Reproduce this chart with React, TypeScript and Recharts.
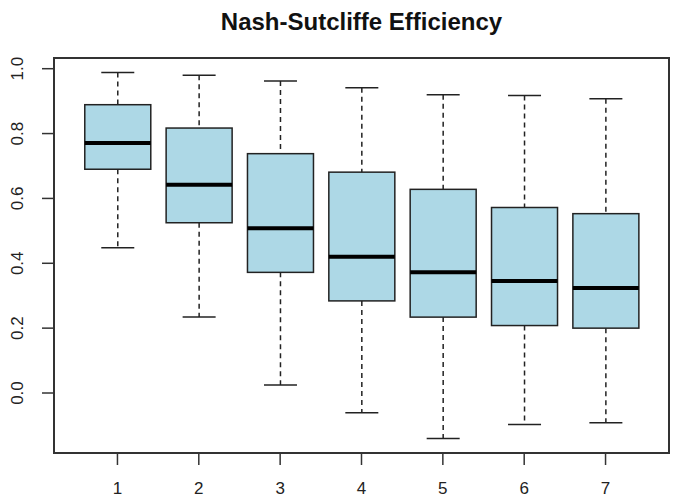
import { ComposedChart, Bar, XAxis, YAxis, ReferenceArea } from "recharts";

// five-number summaries per lead time
const categories = [1, 2, 3, 4, 5, 6, 7];
const lows = [0.448, 0.234, 0.025, -0.061, -0.14, -0.097, -0.092];
const q1s = [0.69, 0.525, 0.372, 0.284, 0.234, 0.208, 0.2];
const medians = [0.771, 0.642, 0.508, 0.42, 0.372, 0.345, 0.324];
const q3s = [0.889, 0.817, 0.738, 0.681, 0.628, 0.572, 0.553];
const highs = [0.988, 0.98, 0.962, 0.941, 0.92, 0.917, 0.907];
const yTicks = [0, 0.2, 0.4, 0.6, 0.8, 1.0];

const X_DOMAIN = [0.22, 7.78];
const Y_DOMAIN = [-0.185, 1.033];

const data = categories.map((k, i) => ({
  k,
  lo: lows[i],
  q1: q1s[i],
  med: medians[i],
  q3: q3s[i],
  hi: highs[i],
  span: [lows[i], highs[i]],
}));

const INK = "#222";
const FONT = "'Liberation Sans', Arial, sans-serif";

// the bar spans lo..hi, so the rest of the box is placed from that same pixel mapping
function BoxShape(props: any) {
  const { x, y, width, height, payload } = props;
  const top = Math.min(y, y + height);
  const h = Math.abs(height);
  const ppu = h / (payload.hi - payload.lo);
  const py = (v: number) => top + (payload.hi - v) * ppu;
  const cx = x + width / 2;
  const cap = width / 4;
  return (
    <g>
      <line x1={cx} x2={cx} y1={py(payload.hi)} y2={py(payload.q3)} stroke={INK} strokeWidth={1.5} strokeDasharray="5 4" />
      <line x1={cx} x2={cx} y1={py(payload.q1)} y2={py(payload.lo)} stroke={INK} strokeWidth={1.5} strokeDasharray="5 4" />
      <line x1={cx - cap} x2={cx + cap} y1={py(payload.hi)} y2={py(payload.hi)} stroke={INK} strokeWidth={1.5} />
      <line x1={cx - cap} x2={cx + cap} y1={py(payload.lo)} y2={py(payload.lo)} stroke={INK} strokeWidth={1.5} />
      <rect
        x={x}
        y={py(payload.q3)}
        width={width}
        height={py(payload.q1) - py(payload.q3)}
        fill="#add8e6"
        stroke={INK}
        strokeWidth={1.5}
      />
      <line x1={x} x2={x + width} y1={py(payload.med)} y2={py(payload.med)} stroke="#000" strokeWidth={4} />
    </g>
  );
}

function XTick(props: any) {
  const { x, y, payload } = props;
  return (
    <text x={x} y={y + 27} textAnchor="middle" fontSize={17} fontFamily={FONT} fill="#222">
      {payload.value}
    </text>
  );
}

function YTick(props: any) {
  const { y, payload } = props;
  const lx = 18;
  return (
    <text
      x={lx}
      y={y}
      textAnchor="middle"
      dominantBaseline="central"
      transform={`rotate(-90, ${lx}, ${y})`}
      fontSize={17}
      fontFamily={FONT}
      fill="#222"
    >
      {Number(payload.value).toFixed(1)}
    </text>
  );
}

export default function App() {
  return (
    <div style={{ position: "absolute", left: 0, top: 0, width: 673, height: 498, background: "#fff" }}>
      <div
        style={{
          position: "absolute",
          left: 54,
          top: 9,
          width: 615,
          textAlign: "center",
          fontFamily: FONT,
          fontWeight: "bold",
          fontSize: 24,
          lineHeight: "26px",
          color: "#111",
        }}
      >
        Nash-Sutcliffe Efficiency
      </div>
      <ComposedChart width={673} height={498} data={data} margin={{ top: 58, right: 4, bottom: 0, left: 0 }}>
        <XAxis
          dataKey="k"
          type="number"
          domain={X_DOMAIN}
          ticks={categories}
          allowDataOverflow
          axisLine={false}
          tickSize={12}
          tickLine={{ stroke: "#333", strokeWidth: 1.5 }}
          tick={<XTick />}
          height={45}
        />
        <YAxis
          type="number"
          domain={Y_DOMAIN}
          ticks={yTicks}
          allowDataOverflow
          axisLine={false}
          tickSize={12}
          tickLine={{ stroke: "#333", strokeWidth: 1.5 }}
          tick={<YTick />}
          width={54}
        />
        <ReferenceArea
          x1={X_DOMAIN[0]}
          x2={X_DOMAIN[1]}
          y1={Y_DOMAIN[0]}
          y2={Y_DOMAIN[1]}
          fill="none"
          stroke="#333"
          strokeWidth={2}
          ifOverflow="visible"
        />
        <Bar dataKey="span" barSize={66} shape={<BoxShape />} isAnimationActive={false} />
      </ComposedChart>
    </div>
  );
}
